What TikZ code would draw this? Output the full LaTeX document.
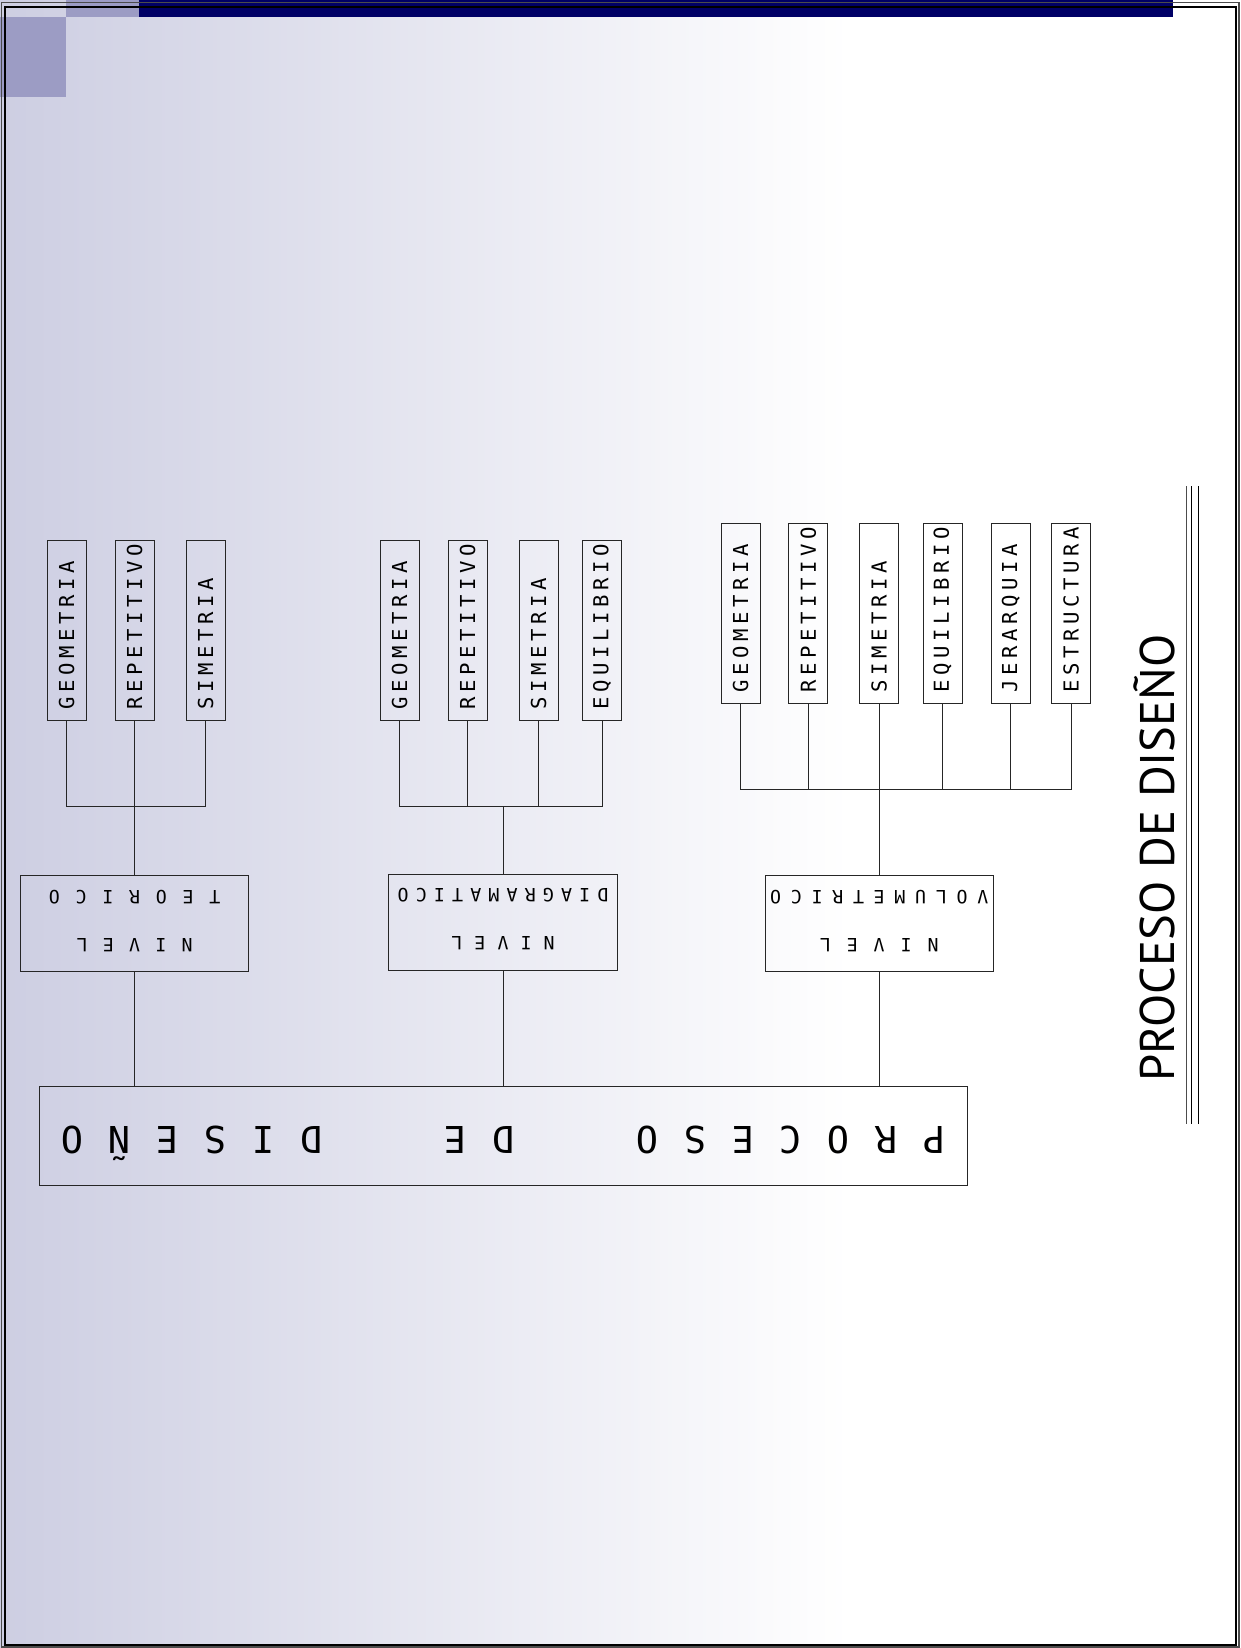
\documentclass[tikz,border=0pt]{standalone}
\usepackage{fontspec}
\newfontfamily\cadfont{DejaVu Sans Mono}
\newfontfamily\titlefont{PT Sans}
\usetikzlibrary{positioning,calc}
\definecolor{fondo}{RGB}{205,206,226}
\definecolor{lila}{RGB}{156,156,196}
\definecolor{marino}{RGB}{0,0,102}
\newcommand{\vtexto}[1]{\rotatebox{90}{\makebox[158pt][l]{#1}}}
\newcommand{\espacio}[2]{{\addfontfeatures{LetterSpace=#1}#2}}
\newcommand{\invtexto}[4]{\rotatebox{180}{\begin{tabular}{@{}c@{}}\espacio{#1}{#2}\\\espacio{#3}{#4}\end{tabular}}}
\tikzset{
  tema/.style={draw=black!85,line width=.9pt,inner sep=0pt,minimum width=39pt,minimum height=180pt,
    font=\cadfont\fontsize{20.6}{22}\selectfont\addfontfeatures{LetterSpace=22}},
  nivel/.style={draw=black!85,line width=.9pt,inner sep=0pt,minimum width=228.5pt,minimum height=95pt,
    font=\cadfont\fontsize{18.3}{48}\selectfont},
  proceso/.style={draw=black!85,line width=.9pt,inner sep=0pt,minimum width=928pt,minimum height=99pt,
    font=\cadfont\fontsize{37}{40}\selectfont},
  rama/.style={line width=.9pt,black!85}
}

\begin{document}
\begin{tikzpicture}[x=1pt,y=-1pt]
  \useasboundingbox (0,0) rectangle (1241,1648);
  \shade[left color=fondo,right color=white] (0,0) rectangle (850,1648);
  \fill[white] (850,0) rectangle (1241,1648);
  \fill[lila] (0,17) rectangle (66,97);
  \fill[lila] (66,0) rectangle (139,17);
  \fill[marino] (139,0) rectangle (1173,17);

  \node[tema] (t1) at (66.7,630) {\vtexto{GEOMETRIA}};
  \node[tema,right=28pt of t1] (t2) {\vtexto{REPETITIVO}};
  \node[tema,right=31.2pt of t2] (t3) {\vtexto{SIMETRIA}};

  \node[tema] (d1) at (399.5,630) {\vtexto{GEOMETRIA}};
  \node[tema,right=28.1pt of d1] (d2) {\vtexto{REPETITIVO}};
  \node[tema,right=31.1pt of d2] (d3) {\vtexto{SIMETRIA}};
  \node[tema,right=23.6pt of d3] (d4) {\vtexto{EQUILIBRIO}};

  \node[tema] (v1) at (740.5,613) {\vtexto{GEOMETRIA}};
  \node[tema,right=28pt of v1] (v2) {\vtexto{REPETITIVO}};
  \node[tema,right=30.9pt of v2] (v3) {\vtexto{SIMETRIA}};
  \node[tema,right=23.5pt of v3] (v4) {\vtexto{EQUILIBRIO}};
  \node[tema,right=28.2pt of v4] (v5) {\vtexto{JERARQUIA}};
  \node[tema,right=20.5pt of v5] (v6) {\vtexto{ESTRUCTURA}};

  \node[nivel,below=155pt of t2] (nivel1) {\invtexto{83}{NIVEL}{86}{TEORICO}};
  \node[nivel] (nivel2) at (503,922.5) {\invtexto{66}{NIVEL}{39}{DIAGRAMATICO}};
  \node[nivel,below=172pt of v3] (nivel3) {\invtexto{87}{NIVEL}{53}{VOLUMETRICO}};

  \node[proceso] (proceso) at (503,1135.5)
    {\rotatebox{180}{\smash{\addfontfeatures{LetterSpace=69}PROCESO\hspace{122pt}DE\hspace{122pt}DISEÑO}\rule{0pt}{19pt}}};

  \node[rotate=90,font=\titlefont\fontsize{48.6}{50}\selectfont] (titulo) at (1154,858) {PROCESO DE DISEÑO};

  \coordinate (c1) at ($(t1.south)+(0,86)$);
  \coordinate (c2) at ($(d1.south)+(0,86)$);
  \coordinate (c3) at ($(v1.south)+(0,86)$);

  \draw[rama] (t1.south) -- (c1) -| (t3.south);
  \draw[rama] (t2.south) -- (nivel1.north);

  \draw[rama] (d1.south) -- (c2) -| (d4.south);
  \draw[rama] (d2.south) -- (d2.south |- c2);
  \draw[rama] (d3.south) -- (d3.south |- c2);
  \draw[rama] (nivel2.north) -- (nivel2.north |- c2);

  \draw[rama] (v1.south) -- (c3) -| (v6.south);
  \draw[rama] (v2.south) -- (v2.south |- c3);
  \draw[rama] (v4.south) -- (v4.south |- c3);
  \draw[rama] (v5.south) -- (v5.south |- c3);
  \draw[rama] (v3.south) -- (nivel3.north);

  \draw[rama] (nivel1.south) -- (nivel1.south |- proceso.north);
  \draw[rama] (nivel2.south) -- (nivel2.south |- proceso.north);
  \draw[rama] (nivel3.south) -- (nivel3.south |- proceso.north);

  \draw[line width=.8pt,black!70] (1186,486) -- (1186,1124);
  \draw[line width=1pt] (1191,486) -- (1191,1124);
  \draw[line width=1pt] (1198,486) -- (1198,1124);

  \draw[line width=1.3pt,black!70] (1.5,2.5) rectangle (1239,1647);
  \draw[line width=2pt] (5,7.5) rectangle (1235.5,1645);
\end{tikzpicture}
\end{document}
